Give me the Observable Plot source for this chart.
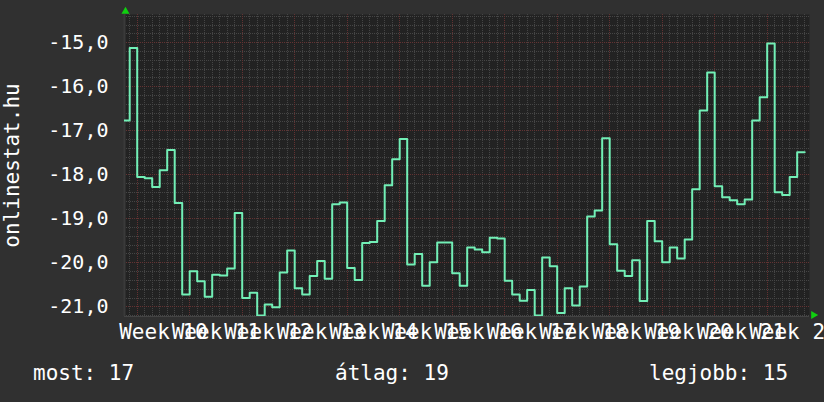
<!DOCTYPE html>
<html><head><meta charset="utf-8">
<script src="https://cdn.jsdelivr.net/npm/d3@7"></script>
<script src="https://cdn.jsdelivr.net/npm/@observablehq/plot@0.6"></script>
<style>
html,body{margin:0;padding:0;background:#303030;}
#wrap{position:relative;width:824px;height:402px;overflow:hidden;font-family:"DejaVu Sans Mono",monospace;color:#fff;}
#chart svg{display:block;}
#footer{position:absolute;left:0;top:350px;width:824px;height:52px;}
#footer span{position:absolute;top:13px;font-size:21px;line-height:21px;white-space:pre;color:#fff;}
</style></head><body>
<div id="wrap"><div id="chart"></div><div id="footer"></div></div>
<script>
// ---- data ----
const seriesName = "onlinestat.hu";
const firstDay = -2; // day offset of the first value relative to the start of Week 10
const values = [
  -16.77, -15.12, -18.05, -18.08, -18.28, -17.90, -17.44, -18.64, -20.72, -20.19,
  -20.42, -20.77, -20.27, -20.29, -20.13, -18.87, -20.80, -20.68, -21.20, -20.95,
  -21.01, -20.22, -19.72, -20.58, -20.72, -20.30, -19.96, -20.36, -18.67, -18.63,
  -20.12, -20.39, -19.55, -19.53, -19.05, -18.24, -17.65, -17.19, -20.04, -19.80,
  -20.52, -19.99, -19.54, -19.54, -20.24, -20.52, -19.65, -19.70, -19.76, -19.43,
  -19.45, -20.41, -20.72, -20.86, -20.62, -21.20, -19.88, -20.08, -21.14, -20.58,
  -20.97, -20.54, -18.95, -18.81, -17.17, -19.58, -20.18, -20.30, -19.94, -20.87,
  -19.05, -19.51, -19.99, -19.65, -19.90, -19.47, -18.33, -16.54, -15.68, -18.26,
  -18.51, -18.58, -18.67, -18.56, -16.77, -16.24, -15.02, -18.40, -18.46, -18.05,
  -17.49
];
const weeks = [10, 11, 12, 13, 14, 15, 16, 17, 18, 19, 20, 21, 22];
const weekLabel = "Week ";
const yTicks = [-15, -16, -17, -18, -19, -20, -21];
const xDomain = [9.758, 22.806];
const yDomain = [-21.22, -14.36];
const footerLabels = ["most: 17", "átlag: 19", "legjobb: 15"];

// ---- build ----
const data = values.map((v, i) => ({x: weeks[0] + (firstDay + i) / 7, y: v}));
data.push({x: weeks[0] + (firstDay + values.length) / 7, y: values[values.length - 1]});

const minorY = d3.range(Math.ceil(yDomain[0] * 5), Math.floor(yDomain[1] * 5) + 1)
  .filter(i => i % 5 !== 0).map(i => i / 5);
const minorX = d3.range(Math.ceil(xDomain[0] * 7), Math.floor(xDomain[1] * 7) + 1)
  .filter(d => d % 7 !== 0).map(d => d / 7);

const fmt = d => d.toFixed(1).replace(".", ",");
const grid = {strokeDasharray: "1,1", strokeWidth: 1, shapeRendering: "crispEdges"};

const chart = Plot.plot({
  width: 824,
  height: 350,
  marginTop: 14,
  marginBottom: 34,
  marginLeft: 124,
  marginRight: 15,
  style: {background: "#303030", color: "#fff", fontFamily: "'DejaVu Sans Mono', monospace", fontSize: "20px"},
  x: {domain: xDomain, axis: null},
  y: {domain: yDomain, axis: null},
  marks: [
    Plot.frame({fill: "#222222", stroke: null}),
    Plot.ruleY(minorY, {stroke: "#454545", ...grid}),
    Plot.ruleX(minorX, {stroke: "#454545", ...grid}),
    Plot.ruleY(yTicks, {stroke: "#633232", ...grid}),
    Plot.ruleX(weeks, {stroke: "#633232", ...grid}),
    Plot.ruleX([xDomain[0]], {stroke: "#3a3a3a", strokeWidth: 2}),
    Plot.ruleY([yDomain[0]], {stroke: "#444", strokeWidth: 1}),
    Plot.axisY({ticks: yTicks, tickFormat: fmt, tickSize: 0, tickPadding: 16, fontSize: 20, label: null}),
    Plot.axisX({ticks: weeks.map(w => w + 0.5), tickFormat: d => weekLabel + Math.floor(d), tickSize: 0, tickPadding: 8, fontSize: 21, label: null}),
    Plot.line(data, {x: "x", y: "y", curve: "step-after", stroke: "#72efb6", strokeWidth: 2, clip: true}),
    Plot.text([seriesName], {frameAnchor: "left", rotate: -90, dx: -112, fontSize: 21, fill: "#fff", textAnchor: "middle", lineAnchor: "middle"}),
    Plot.dot([{x: xDomain[0], y: yDomain[1]}], {x: "x", y: "y", symbol: "triangle", r: 3, fill: "#10d010", stroke: null, dx: 1, dy: -3}),
    Plot.dot([{x: xDomain[1], y: yDomain[0]}], {x: "x", y: "y", symbol: "triangle", r: 3, rotate: 90, fill: "#10d010", stroke: null, dx: 4, dy: -1.5})
  ]
});
document.getElementById("chart").appendChild(chart);

const footer = document.getElementById("footer");
const footerLeft = [33, 335, 649];
footerLabels.forEach((t, i) => {
  const s = document.createElement("span");
  s.textContent = t;
  s.style.left = footerLeft[i] + "px";
  footer.appendChild(s);
});
</script>
</body></html>
